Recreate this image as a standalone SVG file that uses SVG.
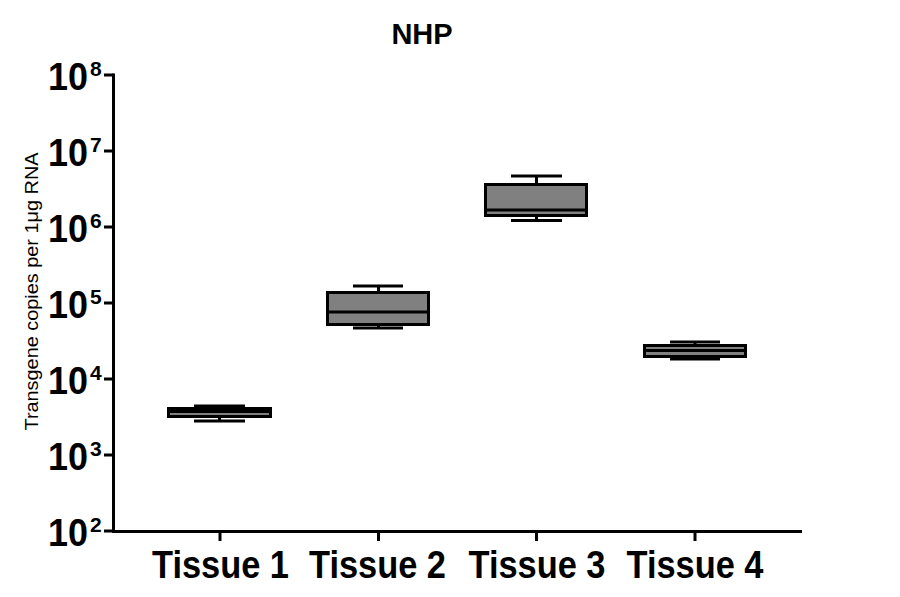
<svg xmlns="http://www.w3.org/2000/svg" width="900" height="597" viewBox="0 0 900 597">
<style>
text{font-family:"Liberation Sans",Arial,sans-serif;fill:#000}
.b{font-weight:bold}
.base{font-size:38px;font-weight:bold;text-anchor:end}
.exp{font-size:21px;font-weight:bold}
.xl{font-size:38px;font-weight:bold;text-anchor:middle}
.ax{stroke:#000;stroke-width:3;fill:none}
.box{fill:#808080;stroke:#000;stroke-width:3}
.ln{stroke:#000;stroke-width:3;fill:none}
</style>
<rect width="900" height="597" fill="#fff"/>
<text class="b" x="422" y="44" font-size="29" text-anchor="middle">NHP</text>
<text x="0" y="0" font-size="18" text-anchor="middle" transform="translate(38,291.5) rotate(-90)" textLength="278" lengthAdjust="spacingAndGlyphs">Transgene copies per 1μg RNA</text>
<g id="axes">
<path class="ax" d="M113.5,73.5 V531.5 H802"/>
<path class="ax" d="M104,75 H113.5 M104,151 H113.5 M104,227 H113.5 M104,303 H113.5 M104,379 H113.5 M104,455 H113.5 M104,531 H113.5"/>
<path class="ax" d="M220,531 V541 M378.5,531 V541 M536.5,531 V541 M695,531 V541"/>
</g>
<g id="ylabels">
<text class="base" x="88" y="90" textLength="40" lengthAdjust="spacingAndGlyphs">10</text><text class="exp" x="90" y="76">8</text>
<text class="base" x="88" y="166" textLength="40" lengthAdjust="spacingAndGlyphs">10</text><text class="exp" x="90" y="152">7</text>
<text class="base" x="88" y="242" textLength="40" lengthAdjust="spacingAndGlyphs">10</text><text class="exp" x="90" y="228">6</text>
<text class="base" x="88" y="318" textLength="40" lengthAdjust="spacingAndGlyphs">10</text><text class="exp" x="90" y="304">5</text>
<text class="base" x="88" y="394" textLength="40" lengthAdjust="spacingAndGlyphs">10</text><text class="exp" x="90" y="380">4</text>
<text class="base" x="88" y="470" textLength="40" lengthAdjust="spacingAndGlyphs">10</text><text class="exp" x="90" y="456">3</text>
<text class="base" x="88" y="546" textLength="40" lengthAdjust="spacingAndGlyphs">10</text><text class="exp" x="90" y="532">2</text>
</g>
<g id="xlabels">
<text class="xl" x="220.5" y="578" textLength="137" lengthAdjust="spacingAndGlyphs">Tissue 1</text>
<text class="xl" x="377.5" y="578" textLength="137" lengthAdjust="spacingAndGlyphs">Tissue 2</text>
<text class="xl" x="537" y="578" textLength="137" lengthAdjust="spacingAndGlyphs">Tissue 3</text>
<text class="xl" x="695" y="578" textLength="137" lengthAdjust="spacingAndGlyphs">Tissue 4</text>
</g>
<g id="tissue1">
<path class="ln" d="M194,406 H245 M219.5,406 V421 M194,421 H245"/>
<rect class="box" x="168.5" y="408.5" width="102" height="8"/>
<path class="ln" d="M168.5,411.5 H270.5"/>
</g>
<g id="tissue2">
<path class="ln" d="M353,286 H403 M378.5,286 V328 M353,328 H403"/>
<rect class="box" x="327.5" y="292.5" width="101" height="32"/>
<path class="ln" d="M327.5,312 H428.5"/>
</g>
<g id="tissue3">
<path class="ln" d="M511,176 H562 M536.5,176 V220.5 M511,220.5 H562"/>
<rect class="box" x="485.5" y="184.5" width="101" height="31"/>
<path class="ln" d="M485.5,210 H586.5"/>
</g>
<g id="tissue4">
<path class="ln" d="M670,342 H720 M695,342 V359 M670,359 H720"/>
<rect class="box" x="644.5" y="345.5" width="101" height="11"/>
<path class="ln" d="M644.5,350.5 H745.5"/>
</g>
</svg>
